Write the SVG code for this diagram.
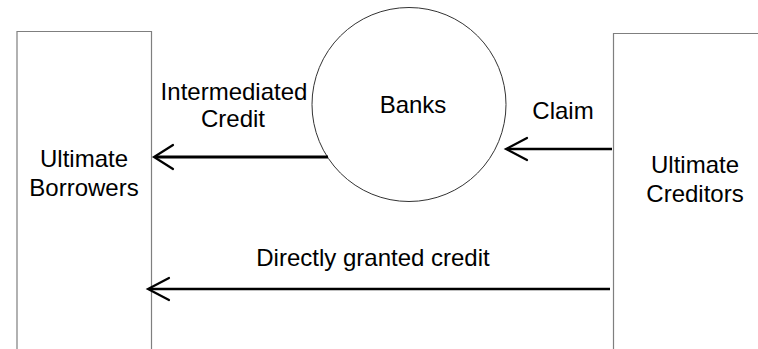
<svg xmlns="http://www.w3.org/2000/svg" width="758" height="349" viewBox="0 0 758 349">
<style>
.box{fill:#fff;stroke:#7f7f7f;stroke-width:1.2}
.circ{fill:#fff;stroke:#333;stroke-width:1}
text{font-family:"Liberation Sans",Arial,sans-serif;font-size:24px;fill:#000;text-anchor:middle}
.conn{fill:none;stroke:#000;stroke-linecap:butt}
.head{fill:none;stroke:#000;stroke-width:2.2;stroke-linecap:round;stroke-linejoin:miter}
</style>
<rect width="758" height="349" fill="#fff"/>
<g id="borrowers">
<path class="box" d="M17,352 V31.5 H151.5 V352"/>
<text x="84" y="167">Ultimate</text>
<text x="84" y="196">Borrowers</text>
</g>
<g id="creditors">
<path class="box" d="M613.5,352 V33.5 H762"/>
<text x="695" y="173">Ultimate</text>
<text x="695" y="202">Creditors</text>
</g>
<g id="banks">
<circle class="circ" cx="409" cy="104.5" r="97"/>
<text x="413" y="112.5">Banks</text>
</g>
<g id="connectors">
<line class="conn" x1="328" y1="157" x2="155" y2="157" stroke-width="3.2"/>
<path class="head" d="M173,145 L154,157 L173,169"/>
<line class="conn" x1="612" y1="149" x2="507" y2="149" stroke-width="2.4"/>
<path class="head" d="M527,138 L506,149 L527,160"/>
<line class="conn" x1="610" y1="289" x2="149" y2="289" stroke-width="2.4"/>
<path class="head" d="M169,278 L148,289 L169,300"/>
<text x="234" y="99.5">Intermediated</text>
<text x="233" y="127">Credit</text>
<text x="563" y="119">Claim</text>
<text x="373" y="266">Directly granted credit</text>
</g>
</svg>
